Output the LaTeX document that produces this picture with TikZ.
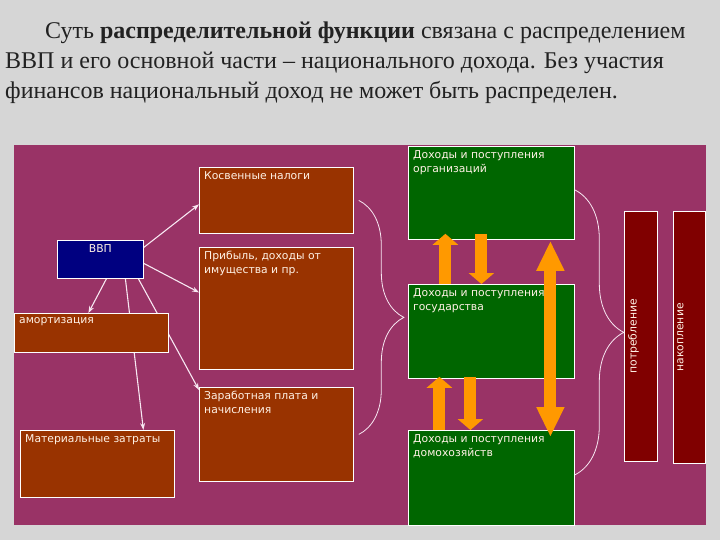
\documentclass[tikz,border=0pt]{standalone}
\usepackage{fontspec}
\setmainfont{Liberation Serif}
\newfontfamily\boxfont{DejaVu Sans}
\usetikzlibrary{arrows.meta}
\usetikzlibrary{decorations.pathreplacing}
\tikzset{>={Stealth[length=7pt,width=5pt]}}
\definecolor{slidegray}{HTML}{D6D6D6}
\definecolor{titletext}{HTML}{222222}
\definecolor{panelfill}{HTML}{993366}
\definecolor{brownfill}{HTML}{993300}
\definecolor{navyfill}{HTML}{000080}
\definecolor{greenfill}{HTML}{006600}
\definecolor{barfill}{HTML}{800000}
\definecolor{flowfill}{HTML}{FF9900}
\definecolor{labeltext}{HTML}{FFF2E6}
\definecolor{connline}{HTML}{F8E8F2}
\pgfdeclarelayer{back}
\pgfdeclarelayer{lines}
\pgfsetlayers{back,lines,main}
\tikzset{
  box/.style={draw=white, line width=.8pt, anchor=north west, inner sep=0pt},
  brownbox/.style={box, fill=brownfill},
  greenbox/.style={box, fill=greenfill},
  barbox/.style={box, fill=barfill},
  boxlabel/.style={anchor=north west, inner xsep=5pt, inner ysep=4pt, text=labeltext,
    font=\boxfont\fontsize{10.8}{14}\selectfont, align=left},
  conn/.style={->, connline, line width=1.1pt},
  flow/.style={flowfill, line width=12pt, -{Triangle[length=11pt,width=25pt]}},
  bigflow/.style={flowfill, line width=12pt,
    {Triangle[length=30pt,width=26pt]}-{Triangle[length=30pt,width=26pt]}},
  curly/.style={connline, line width=.8pt, decorate}
}

\begin{document}
\begin{tikzpicture}[x=1pt, y=-1pt]
      \useasboundingbox (0,0) rectangle (720,540);
      % title
      \node[anchor=north west, inner sep=0pt, align=left, text=titletext,
        font=\fontsize{24}{30}\selectfont] (title) at (5,22)
        {\hspace*{40pt}Суть \textbf{распределительной функции} связана с распределением\\
         ВВП и его основной части -- национального дохода. Без участия\\
         финансов национальный доход не может быть распределен.};
      % panel
      \begin{pgfonlayer}{back}
        \fill[slidegray] (0,0) rectangle (720,540);
        \fill[panelfill] (14,145) rectangle (706,525);
      \end{pgfonlayer}
      % left side
      \node[box, fill=navyfill, minimum width=86, minimum height=38] (vvp) at (57,240) {};
      \node[boxlabel, anchor=north] (vvptxt) at (vvp.north) {ВВП};
      \node[brownbox, minimum width=154, minimum height=66] (kosv) at (199,167) {};
      \node[boxlabel] (kosvtxt) at (kosv.north west) {Косвенные налоги};
      \node[brownbox, minimum width=154, minimum height=122] (prib) at (199,247) {};
      \node[boxlabel] (pribtxt) at (prib.north west) {Прибыль, доходы от\\имущества и пр.};
      \node[brownbox, minimum width=154, minimum height=94] (zarp) at (199,387) {};
      \node[boxlabel] (zarptxt) at (zarp.north west) {Заработная плата и\\начисления};
      \node[brownbox, minimum width=154, minimum height=39] (amort) at (14,313) {};
      \node[boxlabel] (amorttxt) at (amort.north west) {амортизация};
      \node[brownbox, minimum width=154, minimum height=67] (mat) at (20,430) {};
      \node[boxlabel] (mattxt) at (mat.north west) {Материальные затраты};
      % arrows from vvp
      \begin{pgfonlayer}{lines}
        \draw[conn] ([yshift=12]vvp.east) -- ([yshift=-4]kosv.west);
        \draw[conn] ([yshift=-4]vvp.east) -- ([yshift=16]prib.west);
        \draw[conn] ([xshift=6]vvp.south) -- ([xshift=-3]amort.north);
        \draw[conn] ([xshift=25]vvp.south) -- ([xshift=46]mat.north);
        \draw[conn] ([xshift=38]vvp.south) -- ([yshift=-3]zarp.north west);
      \end{pgfonlayer}
      % right side
      \node[greenbox, minimum width=166, minimum height=93] (org) at (408,146) {};
      \node[boxlabel] (orgtxt) at (org.north west) {Доходы и поступления\\организаций};
      \node[greenbox, minimum width=166, minimum height=94] (gov) at (408,284) {};
      \node[boxlabel] (govtxt) at (gov.north west) {Доходы и поступления\\государства};
      \node[greenbox, minimum width=166, minimum height=95] (hh) at (408,430) {};
      \node[barbox, minimum width=33, minimum height=250] (potr) at (624,211) {};
      \node[boxlabel, rotate=90, anchor=north] (potrtxt) at (potr.west) {потребление};
      \node[barbox, minimum width=32, minimum height=252] (nakop) at (673,211) {};
      \node[boxlabel, rotate=90, anchor=north] (nakoptxt) at (nakop.west) {накопление};
      % flows
      \draw[flow] ([xshift=-46]gov.north) -- ([xshift=-46,yshift=6]org.south);
      \draw[flow] ([xshift=-10,yshift=6]org.south) -- ([xshift=-10]gov.north);
      \draw[flow] ([xshift=-52]hh.north) -- ([xshift=-52,yshift=2]gov.south);
      \draw[flow] ([xshift=-21,yshift=2]gov.south) -- ([xshift=-21]hh.north);
      \draw[bigflow] ([xshift=59,yshift=-1]org.south) -- ([xshift=59,yshift=-7]hh.north);
      \node[boxlabel] (hhtxt) at (hh.north west) {Доходы и поступления\\домохозяйств};
      % braces
      \draw[curly, decoration={brace, amplitude=45pt}]
        ([xshift=5]kosv.east) -- ([xshift=5]zarp.east);
      \draw[curly, decoration={brace, amplitude=49pt}]
        ([yshift=3]org.east) -- ([yshift=3]hh.east);
    \end{tikzpicture}
\end{document}
